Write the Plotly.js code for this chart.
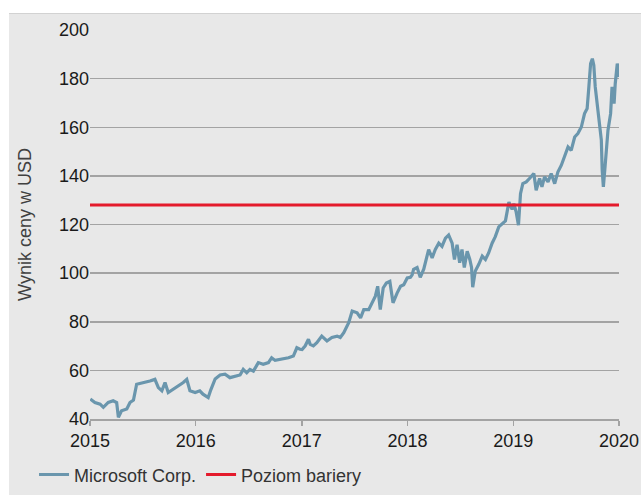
<!DOCTYPE html>
<html>
<head>
<meta charset="utf-8">
<script src="https://cdn.plot.ly/plotly-3.0.1.min.js"></script>
<style>
html,body{margin:0;padding:0;background:#ffffff;width:641px;height:495px;overflow:hidden;}
#chart{position:absolute;left:9px;top:13px;width:632px;height:482px;background:#e8e8e8;border-top:1px solid #d2d2d2;}
</style>
</head>
<body>
<div id="chart"></div>
<script>
var dates = [
"2015-01-02","2015-01-18","2015-02-05","2015-02-16","2015-03-05","2015-03-22","2015-04-03","2015-04-09",
"2015-04-20","2015-05-08","2015-05-19","2015-05-31","2015-06-11","2015-06-23","2015-07-10","2015-07-27",
"2015-08-13","2015-08-25","2015-09-06","2015-09-17","2015-09-28","2015-10-16","2015-11-02","2015-11-19",
"2015-12-01","2015-12-12","2015-12-30",
"2016-01-15","2016-01-26","2016-02-13","2016-02-22","2016-03-08","2016-03-25","2016-04-11","2016-04-28",
"2016-05-16","2016-06-02","2016-06-13","2016-06-25","2016-07-06","2016-07-18","2016-08-04","2016-08-21",
"2016-09-08","2016-09-19","2016-10-01","2016-10-24","2016-11-16","2016-12-03","2016-12-15","2016-12-26",
"2017-01-02","2017-01-13","2017-01-19","2017-01-24","2017-01-30","2017-02-10","2017-02-22","2017-03-11",
"2017-03-29","2017-04-15","2017-05-03","2017-05-14","2017-05-26","2017-06-12","2017-06-24","2017-07-11",
"2017-07-23","2017-08-03","2017-08-20","2017-09-01","2017-09-12","2017-09-20","2017-09-29","2017-10-09",
"2017-10-20","2017-11-01","2017-11-12","2017-11-26","2017-12-08","2017-12-19","2017-12-31",
"2018-01-11","2018-01-17","2018-01-22","2018-02-03","2018-02-14","2018-02-26","2018-03-15","2018-03-27",
"2018-04-07","2018-04-19","2018-04-30","2018-05-12","2018-05-23","2018-06-04","2018-06-12","2018-06-21",
"2018-06-30","2018-07-08","2018-07-16","2018-07-26","2018-08-04","2018-08-10","2018-08-14","2018-08-23",
"2018-09-04","2018-09-16","2018-09-27","2018-10-08","2018-10-20","2018-10-31","2018-11-12","2018-11-24",
"2018-12-05","2018-12-17","2018-12-28",
"2019-01-03","2019-01-11","2019-01-19","2019-01-26","2019-02-03","2019-02-15","2019-02-26","2019-03-13",
"2019-03-21","2019-04-02","2019-04-10","2019-04-19","2019-05-01","2019-05-12","2019-05-24","2019-06-04",
"2019-06-16","2019-06-27","2019-07-09","2019-07-20","2019-08-01","2019-08-12","2019-08-24","2019-09-04",
"2019-09-13","2019-09-19","2019-09-25","2019-10-01","2019-10-06","2019-10-11","2019-10-18","2019-10-26",
"2019-11-01","2019-11-04","2019-11-08","2019-11-12","2019-11-18","2019-11-24","2019-12-03","2019-12-08",
"2019-12-15","2019-12-19","2019-12-26","2020-01-01"
];
var prices = [
48.2,46.8,46.1,44.8,46.8,47.5,46.8,40.7,
43.4,44.1,46.8,47.8,54.3,54.6,55.0,55.6,
56.3,52.9,51.6,55.0,50.9,52.2,53.6,55.0,
56.3,51.6,50.9,
51.6,50.2,48.8,52.0,56.5,58.1,58.4,57.0,
57.7,58.1,60.4,59.0,60.4,59.7,63.2,62.5,
63.2,65.2,64.1,64.5,65.2,65.9,69.3,68.7,
68.6,70.1,72.0,72.8,70.7,70.1,71.4,74.1,
72.1,73.5,74.1,73.5,75.5,79.6,84.4,83.7,
81.6,85.0,85.0,87.8,90.5,94.6,85.0,93.9,
95.9,96.6,87.8,91.8,94.6,95.2,98.0,
98.3,99.3,101.6,102.3,98.3,101.6,109.7,106.3,
109.7,112.3,111.0,114.4,115.7,112.3,105.6,111.7,
104.3,109.7,102.3,109.0,105.6,102.3,94.2,100.9,
103.6,107.0,105.6,108.3,112.3,115.0,119.0,120.4,
121.5,129.2,126.2,
128.6,125.2,119.7,132.7,136.8,137.5,138.9,141.0,
134.1,138.9,135.5,139.6,137.5,141.0,136.8,141.6,
144.4,148.5,151.9,150.5,156.0,157.4,160.1,165.6,
167.7,176.6,186.2,188.2,185.5,176.6,168.4,161.5,
154.7,142.3,135.5,141.0,151.9,158.8,165.6,176.6,
169.7,177.9,186.2,180.7
];
var barrierLevel = 128;
var barrierDates = ["2015-01-01","2020-01-01"];
var seriesNames = ["Microsoft Corp.","Poziom bariery"];
var yTicks = [40,60,80,100,120,140,160,180,200];
var xTicks = ["2015-01-01","2016-01-01","2017-01-01","2018-01-01","2019-01-01","2020-01-01"];
var xTickText = ["2015","2016","2017","2018","2019","2020"];
var yTitle = "Wynik ceny w USD";

var font = "Arial, 'Liberation Sans', sans-serif";
var traces = [
  {x: dates, y: prices, type: "scatter", mode: "lines", name: seriesNames[0],
   line: {color: "#6a96ad", width: 3.2}},
  {x: barrierDates, y: barrierDates.map(function(){return barrierLevel;}), type: "scatter", mode: "lines",
   name: seriesNames[1], line: {color: "#e41b2c", width: 3}}
];
var layout = {
  width: 632, height: 482,
  margin: {l: 81, r: 22, t: 16, b: 77, autoexpand: false},
  paper_bgcolor: "#e8e8e8", plot_bgcolor: "#e8e8e8",
  font: {family: font, size: 18, color: "#1a1a1a"},
  showlegend: true,
  legend: {orientation: "h", xref: "container", yref: "container",
           x: 0.0396, xanchor: "left", y: 0.044, yanchor: "middle",
           bgcolor: "rgba(0,0,0,0)", font: {family: font, size: 18, color: "#333333"},
           itemwidth: 30},
  xaxis: {type: "date", range: ["2015-01-01","2020-01-01"], tickmode: "array",
          tickvals: xTicks, ticktext: xTickText, showgrid: false, zeroline: false,
          showline: true, linecolor: "#a3a3a3", linewidth: 1.5,
          ticks: "outside", ticklen: 5, tickwidth: 1.5, tickcolor: "#a3a3a3",
          tickfont: {family: font, size: 18, color: "#1a1a1a"}, fixedrange: true},
  yaxis: {range: [40, 200], tickmode: "array", tickvals: yTicks, showgrid: true,
          gridcolor: "#a3a3a3", gridwidth: 1.5, zeroline: false, showline: false,
          ticks: "", tickfont: {family: font, size: 18, color: "#1a1a1a"},
          title: {text: yTitle, font: {family: font, size: 18, color: "#404040"}, standoff: 22},
          fixedrange: true}
};
Plotly.newPlot("chart", traces, layout, {displayModeBar: false, staticPlot: true});
</script>
</body>
</html>
